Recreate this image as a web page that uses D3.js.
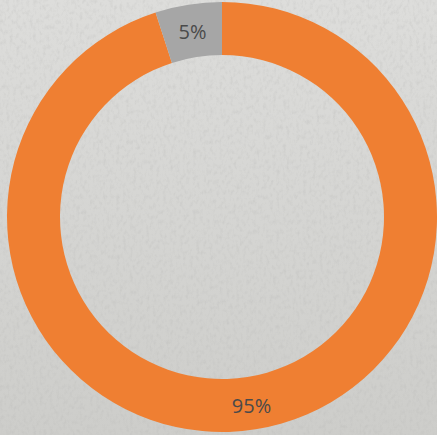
<!DOCTYPE html>
<html>
<head>
<meta charset="utf-8">
<script src="https://cdn.jsdelivr.net/npm/d3@7"></script>
<style>
  html, body { margin: 0; padding: 0; }
  body { width: 437px; height: 435px; overflow: hidden; }
</style>
</head>
<body>
<div id="chart"></div>
<script>
// Share of responses, drawn clockwise from 12 o'clock
const labels = ["95%", "5%"];
const values = [95, 5];
const colors = ["#ef7f32", "#a6a6a6"];

const width = 437, height = 435;
const cx = 222, cy = 217;
const outerR = 215, innerR = 162;

const svg = d3.select("#chart").append("svg")
  .attr("width", width).attr("height", height);

// Paper-like textured backdrop
const defs = svg.append("defs");
const grad = defs.append("linearGradient").attr("id", "bg").attr("x1", 0).attr("y1", 0).attr("x2", 0).attr("y2", 1);
grad.append("stop").attr("offset", "0%").attr("stop-color", "#dddddb");
grad.append("stop").attr("offset", "100%").attr("stop-color", "#cdcdca");
const f = defs.append("filter").attr("id", "grain").attr("x", 0).attr("y", 0).attr("width", "100%").attr("height", "100%");
f.append("feTurbulence").attr("type", "fractalNoise").attr("baseFrequency", "0.3 0.2").attr("numOctaves", 3).attr("seed", 4).attr("result", "n");
f.append("feColorMatrix").attr("in", "n").attr("type", "matrix")
  .attr("values", "0 0 0 0 0.45  0 0 0 0 0.45  0 0 0 0 0.44  -1.2 0 0 0 0.65");
svg.append("rect").attr("width", width).attr("height", height).attr("fill", "url(#bg)");
svg.append("rect").attr("width", width).attr("height", height).attr("filter", "url(#grain)").attr("opacity", 0.5);

const pie = d3.pie().sort(null).value(d => d);
const arcs = pie(values);
const arc = d3.arc().innerRadius(innerR).outerRadius(outerR);
const labelArc = d3.arc().innerRadius((innerR + outerR) / 2).outerRadius((innerR + outerR) / 2);

const g = svg.append("g").attr("transform", `translate(${cx},${cy})`);

g.selectAll("path.slice").data(arcs).join("path")
  .attr("class", "slice")
  .attr("d", arc)
  .attr("fill", (d, i) => colors[i]);

g.selectAll("text.lbl").data(arcs).join("text")
  .attr("class", "lbl")
  .attr("transform", d => `translate(${labelArc.centroid(d)})`)
  .attr("text-anchor", "middle")
  .attr("dy", (d, i) => i === 0 ? "0.5em" : "0.4em")
  .attr("font-family", "'Open Sans', sans-serif")
  .attr("font-size", 20)
  .attr("fill", "#4a4a4a")
  .text((d, i) => labels[i]);
</script>
</body>
</html>
